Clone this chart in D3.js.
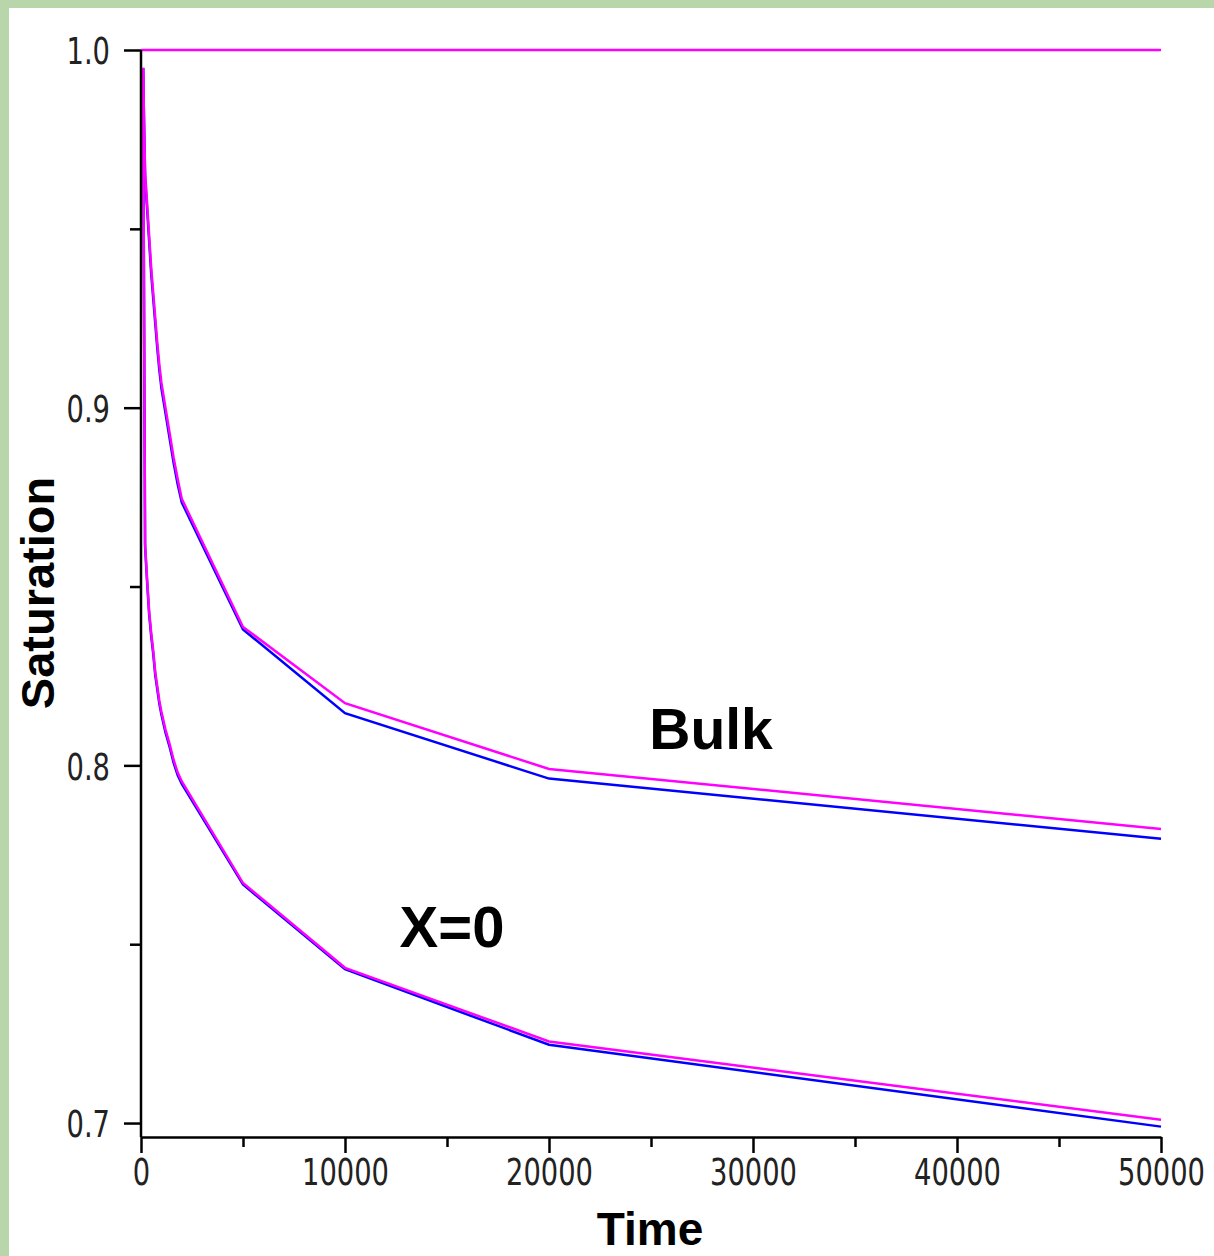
<!DOCTYPE html>
<html>
<head>
<meta charset="utf-8">
<script src="https://cdn.jsdelivr.net/npm/d3@7"></script>
<style>
  html, body { margin: 0; padding: 0; background: #b8d6aa; }
  svg { display: block; }
</style>
</head>
<body>
<svg id="chart" width="1214" height="1256"></svg>
<script>
// Saturation vs time: bulk and X=0 profiles, two runs each (blue / magenta)
const timesBulk = [100, 200, 300, 400, 500, 600, 700, 800, 900, 1000, 1200, 1400, 1600, 1800, 2000, 5000, 10000, 20000, 50000];
const bulkMagenta = [0.995, 0.966, 0.957, 0.948, 0.939, 0.932, 0.925, 0.918, 0.912, 0.907, 0.900, 0.893, 0.886, 0.880, 0.8745, 0.8387, 0.8174, 0.7990, 0.7822];
const bulkBlue    = [0.995, 0.9645, 0.9555, 0.9465, 0.9375, 0.9305, 0.9235, 0.9165, 0.9105, 0.9055, 0.8985, 0.8915, 0.8845, 0.8785, 0.8735, 0.8380, 0.8146, 0.7963, 0.7795];

const timesX0 = [100, 200, 300, 400, 500, 600, 700, 800, 900, 1000, 1200, 1400, 1600, 1800, 2000, 5000, 10000, 20000, 50000];
const x0Magenta = [0.995, 0.862, 0.852, 0.843, 0.837, 0.832, 0.826, 0.822, 0.818, 0.815, 0.810, 0.806, 0.8015, 0.798, 0.7955, 0.7671, 0.7434, 0.7228, 0.7009];
const x0Blue    = [0.995, 0.8612, 0.8512, 0.8422, 0.8362, 0.8312, 0.8252, 0.8212, 0.8172, 0.8142, 0.8092, 0.8052, 0.8007, 0.7972, 0.7948, 0.7667, 0.7430, 0.7219, 0.6990];

const timesBoundary = [0, 50000];
const boundaryValues = [1.0, 1.0];

const xMajorTicks = [0, 10000, 20000, 30000, 40000, 50000];
const xMinorTicks = [5000, 15000, 25000, 35000, 45000];
const yMajorTicks = [0.7, 0.8, 0.9, 1.0];
const yMinorTicks = [0.75, 0.85, 0.95];
const yTickLabels = ["0.7", "0.8", "0.9", "1.0"];

const svg = d3.select("#chart");

// white panel over the green backdrop
svg.append("rect").attr("x", 9).attr("y", 8).attr("width", 1205).attr("height", 1248).attr("fill", "#ffffff");

const x = d3.scaleLinear().domain([0, 50000]).range([141, 1161]);
const y = d3.scaleLinear().domain([0.6961, 1.0]).range([1137, 50]);

const plot = svg.append("g");

function series(times, values) {
  return times.map((t, i) => [t, values[i]]);
}
const line = d3.line().x(d => x(d[0])).y(d => y(d[1]));

function drawLine(data, color) {
  plot.append("path")
    .attr("d", line(data))
    .attr("fill", "none")
    .attr("stroke", color)
    .attr("stroke-width", 2.5)
    .attr("stroke-linejoin", "miter");
}

drawLine(series(timesBulk, bulkBlue), "#0000ff");
drawLine(series(timesX0, x0Blue), "#0000ff");
drawLine(series(timesBulk, bulkMagenta), "#ff00ff");
drawLine(series(timesX0, x0Magenta), "#ff00ff");
drawLine(series(timesBoundary, boundaryValues), "#ff00ff");

// axes
const tickFont = "'DejaVu Sans', sans-serif";
const yAxisG = svg.append("g").attr("transform", "translate(141,0)");
yAxisG.call(d3.axisLeft(y).tickValues(yMajorTicks).tickSize(17).tickSizeOuter(0)
  .tickFormat((d, i) => yTickLabels[i]));
const yMinorG = svg.append("g").attr("transform", "translate(141,0)");
yMinorG.call(d3.axisLeft(y).tickValues(yMinorTicks).tickSize(11).tickSizeOuter(0).tickFormat(""));

const xAxisG = svg.append("g").attr("transform", "translate(0,1137)");
xAxisG.call(d3.axisBottom(x).tickValues(xMajorTicks).tickSize(16).tickSizeOuter(0).tickFormat(d3.format("d")));
const xMinorG = svg.append("g").attr("transform", "translate(0,1137)");
xMinorG.call(d3.axisBottom(x).tickValues(xMinorTicks).tickSize(10).tickSizeOuter(0).tickFormat(""));

// y axis spans the full plot height
yAxisG.select(".domain").remove();
yMinorG.select(".domain").remove();
xMinorG.select(".domain").remove();
svg.append("line").attr("x1", 141).attr("x2", 141).attr("y1", y(1.0)).attr("y2", 1137)
  .attr("stroke", "#000").attr("stroke-width", 2.5);

svg.selectAll(".domain").attr("stroke", "#000").attr("stroke-width", 2.5);
svg.selectAll(".tick line").attr("stroke", "#000").attr("stroke-width", 2.5);

// condensed tick labels
const sx = 0.72;
yAxisG.selectAll(".tick text")
  .attr("font-family", tickFont).attr("font-size", 38).attr("fill", "#222")
  .attr("text-anchor", "end")
  .attr("x", -31 / sx).attr("dy", "0.36em")
  .attr("transform", `scale(${sx},1)`);
xAxisG.selectAll(".tick text")
  .attr("font-family", tickFont).attr("font-size", 38).attr("fill", "#222")
  .attr("text-anchor", "middle")
  .attr("y", 48).attr("dy", 0)
  .attr("transform", `scale(${sx},1)`);

// axis titles
svg.append("text")
  .attr("transform", "translate(54,593) rotate(-90)")
  .attr("text-anchor", "middle")
  .attr("font-family", "'Liberation Sans', Arial, sans-serif")
  .attr("font-weight", "bold").attr("font-size", 47)
  .text("Saturation");
svg.append("text")
  .attr("x", 650).attr("y", 1245)
  .attr("text-anchor", "middle")
  .attr("font-family", "'Liberation Sans', Arial, sans-serif")
  .attr("font-weight", "bold").attr("font-size", 46)
  .text("Time");

// curve labels
svg.append("text")
  .attr("x", 711).attr("y", 749)
  .attr("text-anchor", "middle")
  .attr("font-family", "'Liberation Sans', Arial, sans-serif")
  .attr("font-weight", "bold").attr("font-size", 57)
  .text("Bulk");
svg.append("text")
  .attr("x", 452).attr("y", 947)
  .attr("text-anchor", "middle")
  .attr("font-family", "'Liberation Sans', Arial, sans-serif")
  .attr("font-weight", "bold").attr("font-size", 58)
  .text("X=0");
</script>
</body>
</html>
